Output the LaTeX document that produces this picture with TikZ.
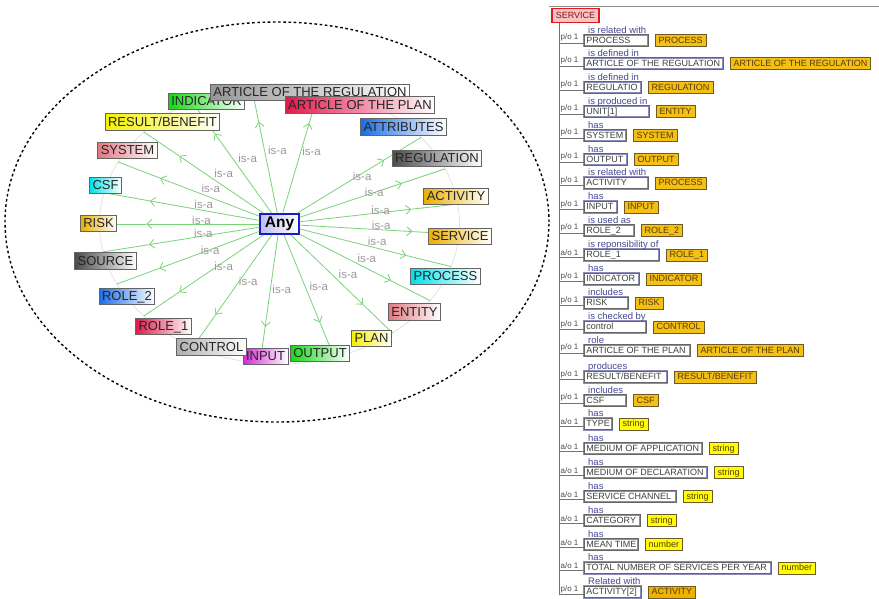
\documentclass[tikz,border=0pt]{standalone}
\usepackage{fontspec}
\setmainfont{Liberation Sans}
\usepackage{tikz}
\usetikzlibrary{positioning}
\usetikzlibrary{arrows.meta,calc,shapes}
\usepackage{xcolor}

\definecolor{isagreen}{RGB}{120,210,120}
\definecolor{clsedge}{RGB}{100,100,100}
\definecolor{anyblue}{RGB}{25,25,200}
\definecolor{anyfill}{RGB}{190,190,240}
\definecolor{cgreen}{RGB}{20,215,20}
\definecolor{cgray}{RGB}{150,150,150}
\definecolor{clight}{RGB}{175,175,175}
\definecolor{ccrimson}{RGB}{225,25,75}
\definecolor{cblue}{RGB}{25,110,230}
\definecolor{cdark}{RGB}{75,75,75}
\definecolor{cgold}{RGB}{235,175,0}
\definecolor{ccyan}{RGB}{0,225,235}
\definecolor{cpink}{RGB}{225,120,130}
\definecolor{cyellow}{RGB}{245,240,0}
\definecolor{cmagenta}{RGB}{215,40,215}
\definecolor{relblue}{RGB}{70,70,150}
\definecolor{fieldedge}{RGB}{140,140,185}
\definecolor{refgold}{RGB}{245,192,20}
\definecolor{lityellow}{RGB}{255,255,0}
\definecolor{actorange}{RGB}{240,178,0}
\definecolor{typeedge}{RGB}{110,90,40}
\definecolor{typetext}{RGB}{85,60,10}
\definecolor{rootred}{RGB}{220,30,30}
\definecolor{rootfill}{RGB}{248,195,195}

\begin{document}
\begin{tikzpicture}[x=1pt,y=-1pt,
  cls/.style={draw=clsedge, line width=.9pt, right color=white, text=black!85,
    font=\fontsize{13}{15}\selectfont, inner xsep=3pt, inner ysep=3.3pt,
    text height=9.4pt, text depth=.8pt},
  anynode/.style={draw=anyblue, line width=2pt, left color=anyfill, right color=white,
    font=\fontsize{15.5}{17}\selectfont\bfseries, inner xsep=4.5pt, inner ysep=3pt},
  isa/.style={isagreen, line width=.8pt},
  isalbl/.style={text=gray!80, font=\fontsize{11.5}{13}\selectfont, anchor=base west, inner sep=2.5pt},
  field/.style={draw=fieldedge, line width=.7pt, double=black!60, double distance=.6pt,
    fill=white, text=black!75, font=\fontsize{9}{10}\selectfont, inner xsep=2pt,
    inner ysep=2pt, text height=6.6pt, text depth=.9pt, anchor=west},
  typebox/.style={draw=typeedge, line width=.8pt, text=typetext, font=\fontsize{9}{10}\selectfont,
    inner xsep=3.5pt, inner ysep=2.2pt, text height=6.6pt, text depth=.9pt},
  rel/.style={text=relblue, font=\fontsize{9.5}{11}\selectfont, inner sep=0pt, anchor=base west},
  card/.style={text=black!70, font=\fontsize{8}{9}\selectfont, inner sep=1.2pt},
  tree/.style={draw=black!55, line width=.8pt},
  rootbox/.style={draw=rootred, line width=1.5pt, fill=rootfill, text=rootred!60!black,
    font=\fontsize{9}{10}\selectfont, inner xsep=4pt, inner ysep=3.5pt, text height=6.6pt, text depth=0pt}]

\useasboundingbox (0,0) rectangle (879,598);

% left panel
\draw[line width=1.4pt, dash pattern=on 2.6pt off 2.6pt] (277,222) ellipse [x radius=272pt, y radius=200pt];
\draw[gray!25, line width=.7pt] (279.5,224) ellipse [x radius=180pt, y radius=140pt];

\node[anynode] (any) at (279.5,224) {Any};

\foreach \n/\a in {indicator/119.1,artreg/99,artplan/77.1,attributes/38.2,regulation/23.2,
    activity/8.2,service/-4.2,process/-17.7,entity/-33.2,plan/-51.1,output/-72.3,input/-96.2,
    control/-118.7,role1/-138.9,role2/-154.6,source/-168.5,risk/180,csf/167.1,system/153.7,result/138.9}
{
  \coordinate (\n-hub) at ($(any.center)+(\a:180pt and 140pt)$);
  \coordinate (\n-tip) at ($(any.center)!0.74!(\n-hub)$);
  \draw[isa,-{Straight Barb[length=5pt,width=9pt]}] (any) -- (\n-tip);
  \draw[isa] (\n-tip) -- (\n-hub);
  \node[isalbl] at ($(any.center)!0.5!(\n-hub)$) {is-a};
}

\node[cls, left color=cgreen] (indicator) at (206.5,101.5) {INDICATOR};
\node[cls, left color=cgray] (artreg) at (310,92.5) {ARTICLE OF THE REGULATION};
\node[cls, left color=ccrimson] (artplan) at (360,105) {ARTICLE OF THE PLAN};
\node[cls, left color=cblue] (attributes) at (403.5,127) {ATTRIBUTES};
\node[cls, left color=cdark] (regulation) at (437,158.5) {REGULATION};
\node[cls, left color=cgold] (activity) at (456,196.5) {ACTIVITY};
\node[cls, left color=cgold] (service) at (460,236.5) {SERVICE};
\node[cls, left color=ccyan] (process) at (445.5,276.5) {PROCESS};
\node[cls, left color=cpink] (entity) at (414.5,312) {ENTITY};
\node[cls, left color=cyellow] (plan) at (371.5,338.5) {PLAN};
\node[cls, left color=cgreen] (output) at (320,353.5) {OUTPUT};
\node[cls, left color=cmagenta] (input) at (265.5,356.5) {INPUT};
\node[cls, left color=clight] (control) at (211.5,347) {CONTROL};
\node[cls, left color=ccrimson] (role1) at (163.5,326.5) {ROLE\_1};
\node[cls, left color=cblue] (role2) at (127,296.5) {ROLE\_2};
\node[cls, left color=cdark] (source) at (105.5,261) {SOURCE};
\node[cls, left color=cgold] (risk) at (98.5,223.5) {RISK};
\node[cls, left color=ccyan] (csf) at (105.5,185.5) {CSF};
\node[cls, left color=cpink] (system) at (127.5,150.5) {SYSTEM};
\node[cls, left color=cyellow] (result) at (162.5,122) {RESULT/BENEFIT};

% right panel
\draw[black!45, line width=.8pt] (549,6) -- (879,6);
\node[rootbox] (root) at (575.5,15.5) {SERVICE};
\coordinate (trunk) at (559,23);

\foreach \y/\card/\rel/\fld/\w/\typ/\tcol [count=\i] in {
  40.5/{p/o 1}/is related with/PROCESS/60/PROCESS/refgold,
  63.5/{p/o 1}/is defined in/ARTICLE OF THE REGULATION/135/ARTICLE OF THE REGULATION/refgold,
  87.5/{p/o 1}/is defined in/REGULATIO/53/REGULATION/refgold,
  111.5/{p/o 1}/is produced in/{UNIT[1]}/61/ENTITY/refgold,
  135.5/{p/o 1}/has/SYSTEM/38/SYSTEM/refgold,
  159.5/{p/o 1}/has/OUTPUT/39/OUTPUT/refgold,
  183/{p/o 1}/is related with/ACTIVITY/60/PROCESS/refgold,
  207/{p/o 1}/has/INPUT/29/INPUT/refgold,
  230.5/{p/o 1}/is used as/ROLE\_2/46/ROLE\_2/refgold,
  255/{a/o 1}/is reponsibility of/ROLE\_1/71/ROLE\_1/refgold,
  279/{p/o 1}/has/INDICATOR/51/INDICATOR/refgold,
  303/{p/o 1}/includes/RISK/40/RISK/refgold,
  327/{p/o 1}/is checked by/control/58/CONTROL/refgold,
  350.5/{p/o 1}/role/ARTICLE OF THE PLAN/102/ARTICLE OF THE PLAN/refgold,
  377/{p/o 1}/produces/{RESULT/BENEFIT}/79/{RESULT/BENEFIT}/refgold,
  400.5/{p/o 1}/includes/CSF/38/CSF/refgold,
  424/{a/o 1}/has/TYPE/24/string/lityellow,
  448.5/{a/o 1}/has/MEDIUM OF APPLICATION/114/string/lityellow,
  472.5/{a/o 1}/has/MEDIUM OF DECLARATION/119/string/lityellow,
  496.5/{a/o 1}/has/SERVICE CHANNEL/88/string/lityellow,
  520.5/{a/o 1}/has/CATEGORY/52/string/lityellow,
  544.5/{a/o 1}/has/MEAN TIME/50/number/lityellow,
  568/{a/o 1}/has/TOTAL NUMBER OF SERVICES PER YEAR/183/number/lityellow,
  592/{p/o 1}/Related with/{ACTIVITY[2]}/53/ACTIVITY/actorange}
{
  \node[field] (f\i) at (584,\y) {\makebox[\w pt][l]{\fld}};
  \node[typebox, fill=\tcol, right=6pt of f\i] (t\i) {\typ};
  \node[rel] at ([xshift=4pt,yshift=1pt]f\i.north west) {\rel};
  \coordinate (b\i) at ([yshift=-2.5pt]f\i.west);
  \draw[tree] (b\i) -- (b\i -| trunk) node[card, anchor=south west, pos=1] {\card};
}
\draw[tree] (root.south -| trunk) -- (b24 -| trunk);

\end{tikzpicture}
\end{document}
